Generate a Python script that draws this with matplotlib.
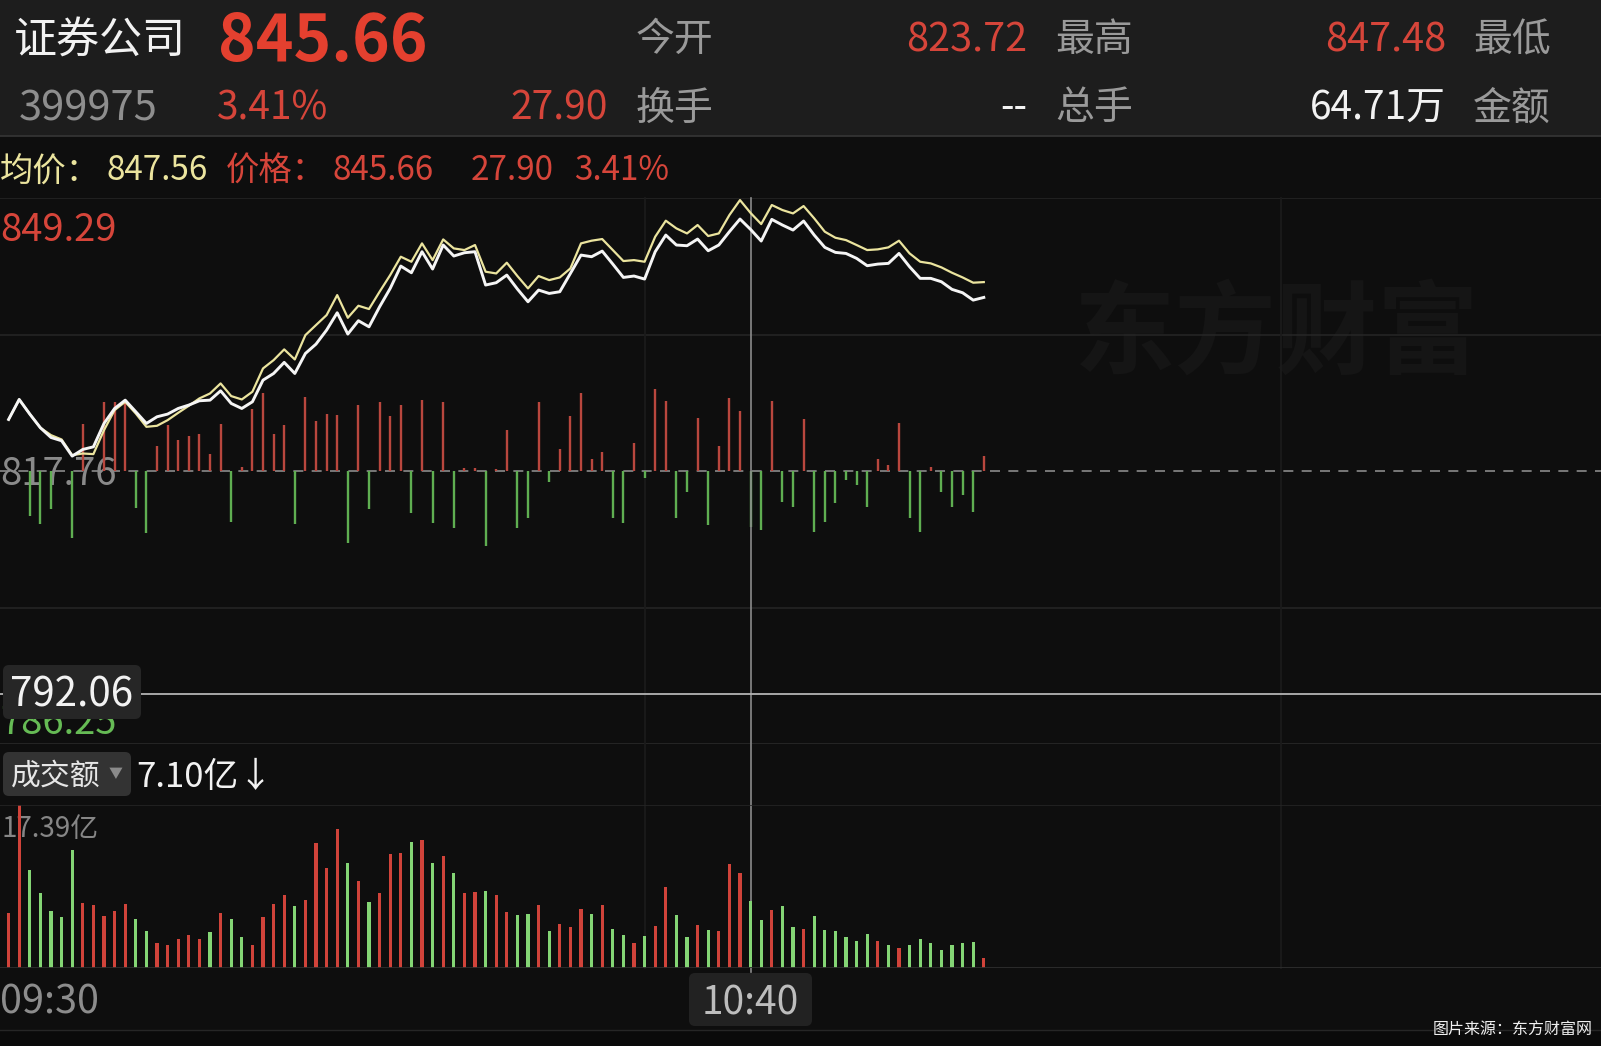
import matplotlib
matplotlib.use("Agg")
import matplotlib.pyplot as plt
from matplotlib.patches import FancyBboxPatch, Rectangle

plt.rcParams['font.family'] = ['Noto Sans CJK SC', 'DejaVu Sans']

# ---------------- data ----------------
stock_name = "证券公司"
stock_code = "399975"
last_price = "845.66"
change = "27.90"
change_pct = "3.41%"
open_price = "823.72"
high_price = "847.48"
total_hands = "--"
amount_total = "64.71万"
prev_close = 817.76
axis_top = 849.29
axis_bottom = 786.25
cross_price = 792.06
cross_idx = 70
cross_avg = "847.56"
cross_volume = "7.10亿"
vol_max = 17.39
vol_max_label = "17.39亿"
time_labels = ["09:30", "10:40"]
grid_minutes = [60, 120]

price = [823.72, 826.03, 824.34, 822.76, 821.64, 821.26, 819.49, 820.26, 820.56, 823.26,
         824.99, 825.95, 824.61, 823.26, 824.03, 824.34, 824.99, 825.38, 825.88, 825.95,
         827.03, 825.57, 824.99, 825.76, 828.26, 829.03, 830.31, 829.03, 831.34, 832.42,
         834.04, 836.04, 833.58, 835.12, 834.42, 836.73, 838.85, 841.43, 840.66, 843.09,
         841.09, 843.86, 842.59, 842.97, 843.09, 839.24, 839.51, 840.39, 838.78, 837.31,
         838.66, 838.27, 838.47, 840.58, 842.70, 842.51, 843.16, 841.66, 840.12, 840.28,
         839.93, 843.09, 845.01, 843.86, 843.78, 844.55, 843.20, 843.86, 845.40, 846.86,
         845.66, 844.32, 846.82, 846.17, 845.59, 846.63, 845.01, 843.59, 843.01, 842.89,
         842.32, 841.47, 841.66, 841.74, 842.89, 841.35, 840.01, 840.01, 839.62, 838.74,
         838.35, 837.50, 837.81]

avg_price = [823.72, 826.03, 824.34, 822.76, 821.91, 821.41, 819.60, 819.79, 819.72, 822.49,
             824.80, 825.76, 824.41, 822.87, 822.99, 823.64, 824.49, 825.30, 826.15, 826.72,
             827.88, 826.42, 826.03, 826.92, 829.61, 830.57, 831.81, 830.65, 833.46, 834.62,
             835.77, 838.08, 835.46, 836.85, 836.47, 838.47, 840.39, 842.51, 841.93, 844.05,
             842.12, 844.51, 843.47, 843.28, 843.86, 840.78, 840.58, 841.82, 840.28, 838.85,
             840.28, 839.81, 840.12, 841.16, 844.05, 844.36, 844.55, 843.28, 842.01, 842.12,
             841.93, 844.82, 846.67, 845.78, 845.20, 846.17, 844.90, 845.20, 847.32, 849.05,
             847.56, 846.28, 848.48, 847.90, 847.51, 848.36, 846.94, 845.40, 844.70, 844.43,
             843.86, 843.28, 843.36, 843.59, 844.36, 842.89, 841.93, 841.74, 841.28, 840.66,
             840.12, 839.51, 839.58]

flow = [0, 0, -5.20, -6.16, -4.43, 0, -7.70, 5.47, 0, 8.01,
        8.01, 8.01, -4.24, -7.12, 2.89, 5.31, 3.54, 4.04, 4.31, 1.93,
        5.47, -5.85, 0.46, 7.12, 9.05, 4.31, 5.27, -6.16, 8.55, 5.78,
        6.62, 6.47, -8.28, 7.58, -4.43, 8.01, 6.35, 7.58, -4.81, 8.16,
        -5.97, 8.01, -6.55, 0.39, 0.39, -8.66, 0.19, 4.70, -6.55, -5.39,
        8.01, -1.31, 2.50, 6.35, 8.97, 1.35, 2.23, -5.47, -6.04, 3.27,
        -0.85, 9.43, 8.09, -5.47, -2.39, 6.08, -6.24, 2.89, 8.39, 6.97,
        -6.51, -6.81, 8.09, -3.54, -4.12, 5.97, -7.01, -5.85, -3.73, -1.04,
        -1.62, -4.12, 1.35, 0.69, 5.58, -5.47, -7.01, 0.50, -2.39, -4.12,
        -2.77, -4.70, 1.73]

volume = [5.92, 17.39, 10.50, 7.95, 6.13, 5.45, 12.58, 6.91, 6.70, 5.56,
          6.06, 6.81, 5.27, 3.96, 2.64, 2.42, 3.06, 3.56, 3.06, 3.81,
          5.84, 5.27, 3.31, 2.49, 5.49, 6.81, 7.77, 6.63, 7.23, 13.36,
          10.62, 14.79, 11.19, 9.23, 7.09, 7.95, 12.12, 12.29, 13.43, 13.61,
          11.19, 11.90, 10.12, 8.02, 8.16, 8.23, 7.84, 5.99, 5.67, 5.74,
          6.77, 3.92, 4.70, 4.38, 6.34, 5.74, 6.77, 4.17, 3.53, 2.64,
          3.39, 4.49, 8.62, 5.63, 3.28, 4.56, 4.10, 3.92, 11.08, 10.09,
          7.10, 5.13, 6.17, 6.66, 4.38, 4.13, 5.52, 4.10, 3.99, 3.28,
          2.92, 3.64, 2.92, 2.42, 2.14, 2.42, 3.06, 2.64, 1.92, 2.42,
          2.64, 2.74, 1.07]

direction = list("rrgggggrrr" "rrggrrrrrg" "rggrrrrgrr" "rrgrgrrrgr" "grgrrgrrgg"
                 "rgrrrgrggr" "grrggrgrrr" "ggrggrgggg" "ggrgrggggg" "ggr")

# ---------------- layout ----------------
W, H = 1601, 1046
X0_PX, STEP = 8.6, 10.6
xlim = (-X0_PX / STEP, (W - X0_PX) / STEP)
idx = list(range(len(price)))

RED = '#de4236'
RED_T = '#d6453a'
GRAY = '#8f8f8f'
WHITE = '#f2f2f2'
YEL = '#ebe49e'


def fig_rect(x0, y0, x1, y1):
    return [x0 / W, 1 - y1 / H, (x1 - x0) / W, (y1 - y0) / H]


def txt(ax, x, yc, s, size, color, ha='left', weight='normal', **kw):
    em = size * 100 / 72.0
    return ax.text(x, yc + 0.37 * em, s, fontsize=size, color=color, ha=ha,
                   va='baseline', fontweight=weight, **kw)


fig = plt.figure(figsize=(W / 100, H / 100), dpi=100)
fig.patch.set_facecolor('#0e0e0e')

bg = fig.add_axes([0, 0, 1, 1])
bg.set_xlim(0, W)
bg.set_ylim(H, 0)
bg.axis('off')
bg.add_patch(Rectangle((0, 0), W, 136, color='#1d1d1d', lw=0))
bg.plot([0, W], [136, 136], color='#363636', lw=1.2)
bg.add_patch(Rectangle((0, 1031), W, 15, color='#0a0a0a', lw=0))
bg.plot([0, W], [1030, 1030], color='#262626', lw=1)

# watermark
bg.text(1276, 337, "东方财富", fontsize=73, color='#151515', ha='center', va='center',
        fontweight='bold')

# header row 1
txt(bg, 14, 37, stock_name, 31, WHITE)
txt(bg, 218, 37, last_price, 46, '#e4402f', weight='bold')
txt(bg, 636, 37, "今开", 28, '#9a9a9a')
txt(bg, 1027, 37, open_price, 28.5, RED_T, ha='right')
txt(bg, 1055, 37, "最高", 28, '#9a9a9a')
txt(bg, 1446, 37, high_price, 28.5, RED_T, ha='right')
txt(bg, 1473, 37, "最低", 28, '#9a9a9a')
# header row 2
txt(bg, 19, 105, stock_code, 30, '#8e8e8e')
txt(bg, 217, 105, change_pct, 28, RED_T)
txt(bg, 608, 105, change, 28, RED_T, ha='right')
txt(bg, 636, 105, "换手", 28, '#9a9a9a')
txt(bg, 1027, 105, total_hands, 28, WHITE, ha='right')
txt(bg, 1055, 105, "总手", 28, '#9a9a9a')
txt(bg, 1446, 105, amount_total, 28, WHITE, ha='right')
txt(bg, 1473, 105, "金额", 28, '#9a9a9a')
# row 3
txt(bg, 0, 168, "均价：", 24, YEL)
txt(bg, 106, 168, cross_avg, 24, YEL)
txt(bg, 226, 168, "价格：", 24, RED_T)
txt(bg, 333, 168, last_price, 24, RED_T)
txt(bg, 471, 168, change, 24, RED_T)
txt(bg, 574, 168, change_pct, 24, RED_T)

# axis labels (under the marks)
txt(bg, 0, 227, f"{axis_top:.2f}", 27.5, RED_T)
txt(bg, 0, 471, f"{prev_close:.2f}", 27.5, '#8a8a8a')
txt(bg, 0, 720, f"{axis_bottom:.2f}", 27.5, '#66bb55')
txt(bg, 2, 827, vol_max_label, 20, '#868686')
txt(bg, 0, 999, time_labels[0], 28.5, '#8c8c8c')

# ---------------- price panel ----------------
ax_p = fig.add_axes(fig_rect(0, 198, W, 744))
ax_p.set_facecolor('none')
ax_p.set_xlim(*xlim)
ax_p.set_ylim(axis_bottom, axis_top)
ax_p.axis('off')
ph = 744 - 198
for yv in [axis_top, (axis_top + prev_close) / 2, (prev_close + axis_bottom) / 2]:
    ax_p.axhline(yv, color='#262626', lw=1.1)
ax_p.axhline(axis_bottom, color='#2c2c2c', lw=1.1)
for xv in grid_minutes:
    ax_p.axvline(xv, ymin=-(968 - 744) / ph, ymax=1, color='#1b1b1b', lw=1.3, clip_on=False)
ax_p.axhline(prev_close, color='#8a8a8a', lw=1.2, ls=(0, (6, 5)))

bar_cols = ['#b9473e' if f >= 0 else '#5fae51' for f in flow]
ax_p.vlines(idx, prev_close, [prev_close + f for f in flow], colors=bar_cols, lw=1.7)

ax_p.axvline(cross_idx, ymin=-(972 - 744) / ph, ymax=1, color='#8a8a8a', lw=1.2, clip_on=False)
ax_p.axhline(cross_price, color='#b4b4b4', lw=1.3)

ax_p.plot(idx, avg_price, color=YEL, lw=1.6, solid_joinstyle='round')
ax_p.plot(idx, price, color='#f5f5f5', lw=2.1, solid_joinstyle='round')

# ---------------- volume panel ----------------
ax_v = fig.add_axes(fig_rect(0, 805, W, 968))
ax_v.set_facecolor('none')
ax_v.set_xlim(*xlim)
ax_v.set_ylim(0, vol_max)
ax_v.axis('off')
ax_v.axhline(vol_max, color='#262626', lw=1.1)
ax_v.axhline(0, color='#2e2e2e', lw=1.3)
vcols = ['#d0433a' if d == 'r' else '#84d575' for d in direction]
ax_v.bar(idx, volume, width=0.3, color=vcols, lw=0)

# ---------------- overlay ----------------
ov = fig.add_axes([0, 0, 1, 1])
ov.set_facecolor('none')
ov.set_xlim(0, W)
ov.set_ylim(H, 0)
ov.axis('off')
ov.add_patch(FancyBboxPatch((3, 665), 138, 54, boxstyle='round,pad=0,rounding_size=6',
                            fc='#262626', ec='none'))
txt(ov, 10, 692, f"{cross_price:.2f}", 29, WHITE)

ov.add_patch(FancyBboxPatch((3, 752), 128, 44, boxstyle='round,pad=0,rounding_size=6',
                            fc='#333333', ec='none'))
txt(ov, 11, 774, "成交额", 21.5, '#e6e6e6')
ov.text(116, 774, "▼", fontsize=10, color='#8a8a8a', ha='center', va='center')
txt(ov, 136, 774, cross_volume + "↓", 25, WHITE)

ov.add_patch(FancyBboxPatch((689, 973), 123, 53, boxstyle='round,pad=0,rounding_size=6',
                            fc='#222222', ec='none'))
txt(ov, 750, 1000, time_labels[1], 28, '#bdbdbd', ha='center')

txt(ov, 1593, 1029, "图片来源：东方财富网", 11.5, '#f0f0f0', ha='right')

fig.savefig("out.png", dpi=100, facecolor=fig.get_facecolor())
